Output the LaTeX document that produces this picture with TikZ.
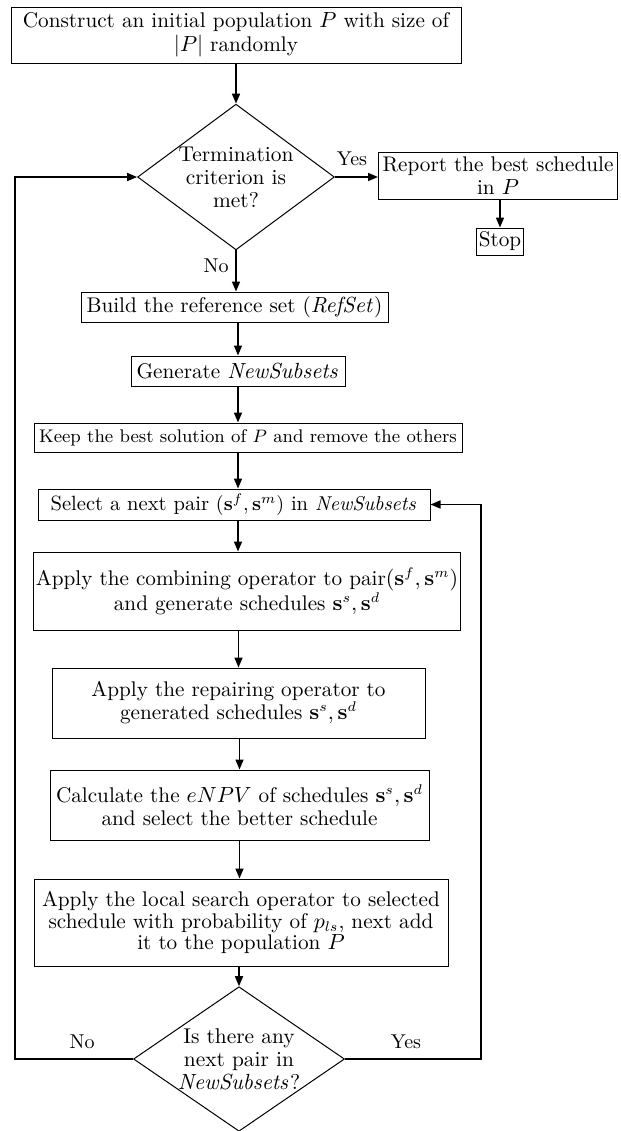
\documentclass[tikz,border=0pt]{standalone}
\usepackage{amsmath, amssymb}
\usepackage{bm}
\usepackage{tikz}
\usetikzlibrary{shapes,calc}
\usetikzlibrary{arrows.meta,positioning}

\tikzset{
  block/.style={draw, rectangle, align=center, inner sep=1pt, line width=0.5pt,
    font=\fontsize{10.6}{11.5}\selectfont},
  decision/.style={draw, diamond, align=center, inner sep=0pt, line width=0.5pt,
    font=\fontsize{10.7}{11.5}\selectfont},
  flow/.style={-{Triangle[length=5pt,width=4pt]}, line width=0.8pt},
  lab/.style={inner sep=1pt}
}

\begin{document}
\begin{tikzpicture}[x=0.5pt,y=-0.5pt]
            \useasboundingbox (0,0) rectangle (621,1131);
            % Define steps
            \node[block, minimum width=225pt, minimum height=28pt,
              font=\fontsize{10.6}{12.2}\selectfont] (init) at (236,35)
              {Construct an initial population $P$ with size of\\ $|P|$ randomly};
            \node[decision, minimum width=97pt, minimum height=72pt, aspect=1.35] (term) at (236,177)
              {Termination\\ criterion is\\ met?};
            \node[block, minimum width=119.5pt, minimum height=23.5pt] (report) at (498,175.5)
              {Report the best schedule\\ in $P$};
            \node[block, minimum width=23.5pt, minimum height=13.5pt] (stop) at (500,241.5) {Stop};
            \node[block, minimum width=153.5pt, minimum height=15pt] (build) at (234.5,307)
              {Build the reference set ($\mathit{RefSet}$)};
            \node[block, minimum width=107pt, minimum height=15pt] (gen) at (238,371)
              {Generate $\mathit{NewSubsets}$};
            \node[block, minimum width=214pt, minimum height=14.5pt,
              font=\fontsize{9.15}{11}\selectfont] (keep) at (248,437.5)
              {Keep the best solution of $P$ and remove the others};
            \node[block, minimum width=196pt, minimum height=15.5pt,
              font=\fontsize{10.3}{11}\selectfont] (select) at (234,504.5)
              {Select a next pair $(\mathbf{s}^f,\mathbf{s}^m)$ in $\mathit{NewSubsets}$};
            \node[block, minimum width=211pt, minimum height=39pt] (comb) at (247,591)
              {Apply the combining operator to pair$(\mathbf{s}^f,\mathbf{s}^m)$\\ and generate schedules $\mathbf{s}^s,\mathbf{s}^d$};
            \node[block, minimum width=186.5pt, minimum height=35pt] (repair) at (238.5,703)
              {Apply the repairing operator to\\ generated schedules $\mathbf{s}^s,\mathbf{s}^d$};
            \node[block, minimum width=189.5pt, minimum height=35pt] (calc) at (239.5,805)
              {Calculate the $eNPV$ of schedules $\mathbf{s}^s,\mathbf{s}^d$\\ and select the better schedule};
            \node[block, minimum width=207pt, minimum height=43.5pt,
              font=\fontsize{10.6}{10.8}\selectfont] (local) at (241,922.5)
              {Apply the local search operator to selected\\ schedule with probability of $p_{ls}$, next add\\ it to the population $P$};
            \node[decision, minimum width=105.5pt, minimum height=72pt, aspect=1.46] (more) at (239,1059)
              {Is there any\\ next pair in\\ $\mathit{NewSubsets}$?};
            % Labels
            \node[lab] (yes1) at (352,159) {Yes};
            \node[lab] (no1) at (216,266) {No};
            \node[lab] (no2) at (82,1042) {No};
            \node[lab] (yes2) at (406,1042) {Yes};
            % Loop lines
            \coordinate (loopL) at (15,0);
            \coordinate (loopR) at (481,0);
            % Arrows
            \draw[flow] (init) -- (term);
            \draw[flow] (term.east) -- (term.east -| report.west);
            \draw[flow] (report.south -| stop) -- (stop);
            \draw[flow] (term.south) -- (term.south |- build.north);
            \draw[flow] (build.south) -- (build.south -| gen) -- (gen.north);
            \draw[flow] (gen.south) -- (gen.south |- keep.north);
            \draw[flow] (keep.south -| gen) -- (gen |- select.north);
            \draw[flow] (select.south -| gen) -- (gen |- comb.north);
            \draw[flow] (comb.south -| repair) -- (repair.north);
            \draw[flow] (repair.south -| calc) -- (calc.north);
            \draw[flow] (calc.south) -- (calc.south |- local.north);
            \draw[flow] (local.south -| more) -- (more.north);
            \draw[flow] (more.west) -- (more.west -| loopL) |- (term.west);
            \draw[flow] (more.east) -- (more.east -| loopR) |- (select.east);
          \end{tikzpicture}
\end{document}
